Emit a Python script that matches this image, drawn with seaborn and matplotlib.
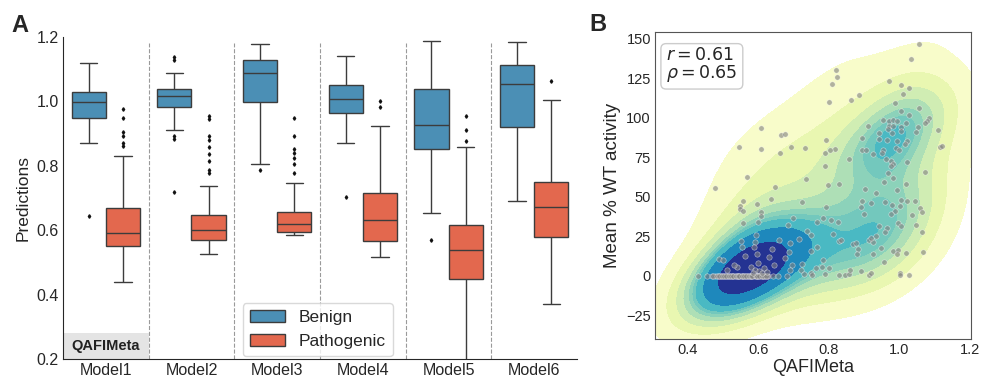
import numpy as np
import pandas as pd
import matplotlib
matplotlib.use("Agg")
import matplotlib.pyplot as plt
import seaborn as sns

# ---------------- Panel A data (box summary values) ----------------
models = ["Model1", "Model2", "Model3", "Model4", "Model5", "Model6"]
groups = ["Benign", "Pathogenic"]

benign_lo = [0.870, 0.912, 0.807, 0.870, 0.653, 0.690]
benign_q1 = [0.948, 0.984, 0.997, 0.9625, 0.853, 0.921]
benign_med = [0.997, 1.017, 1.089, 1.006, 0.926, 1.053]
benign_q3 = [1.029, 1.039, 1.128, 1.050, 1.037, 1.114]
benign_hi = [1.120, 1.089, 1.177, 1.142, 1.186, 1.184]
benign_fliers = [[0.643], [1.139, 1.128, 0.891, 0.883, 0.719], [0.787], [0.703], [0.568], []]

patho_lo = [0.440, 0.526, 0.586, 0.516, 0.198, 0.371]
patho_q1 = [0.550, 0.568, 0.593, 0.567, 0.447, 0.578]
patho_med = [0.592, 0.602, 0.620, 0.6325, 0.537, 0.673]
patho_q3 = [0.669, 0.647, 0.656, 0.717, 0.617, 0.750]
patho_hi = [0.831, 0.7375, 0.748, 0.923, 0.859, 1.003]
patho_fliers = [[0.976, 0.947, 0.904, 0.894, 0.870, 0.862],
                [0.956, 0.946, 0.891, 0.880, 0.859, 0.837, 0.815, 0.787, 0.778],
                [0.948, 0.893, 0.851, 0.839, 0.823, 0.807, 0.778],
                [1.002, 0.984], [0.955, 0.912, 0.877], [1.0625]]

# ---------------- Panel B data ----------------
qafi = [1.055, 1.032, 0.820, 0.822, 0.809, 0.970, 1.005, 1.026, 1.011, 0.886, 0.862, 0.802,
        0.988, 1.055, 1.004, 1.027, 0.954, 0.971, 0.981, 0.994, 1.020, 1.085, 1.077, 1.073,
        0.910, 0.970, 0.983, 1.004, 1.053, 0.969, 1.004, 0.978, 1.047, 1.109, 0.941, 0.894,
        0.943, 0.964, 0.994, 1.023, 1.017, 0.792, 0.817, 0.804, 0.788, 0.893, 0.905, 0.953,
        0.990, 1.000, 1.115, 1.122, 0.952, 0.924, 0.857, 0.962, 0.977, 0.982, 0.975, 1.023,
        0.788, 1.072, 0.968, 0.981, 0.798, 0.828, 1.020,
        0.608, 0.666, 0.675, 0.545, 0.607, 0.662, 0.694, 0.733, 0.569, 0.737,
        0.478, 0.649, 0.725, 0.556, 0.636, 0.548, 0.549, 0.558, 0.598, 0.607, 0.608, 0.556,
        0.601, 0.700, 0.686, 0.738, 0.750, 0.593, 0.551, 0.591, 0.660, 0.690, 0.716, 0.750,
        0.588, 0.640, 0.688, 0.553, 0.563, 0.598, 0.631, 0.675, 0.489, 0.501, 0.539, 0.581,
        0.600, 0.645, 0.591, 0.602, 0.617, 0.695, 0.690, 0.723, 0.721, 0.729, 0.749, 0.753,
        0.513, 0.531,
        0.429, 0.454, 0.468, 0.478, 0.487, 0.496, 0.506, 0.515, 0.525, 0.534, 0.544, 0.553,
        0.563, 0.572, 0.581, 0.591, 0.600, 0.610, 0.619, 0.629, 0.643, 0.657, 0.681,
        0.473, 0.483, 0.492, 0.501, 0.511, 0.520, 0.530, 0.539, 0.549, 0.558, 0.568, 0.577,
        0.586, 0.596, 0.605, 0.615, 0.624,
        0.490, 0.498, 0.504, 0.509, 0.517, 0.523, 0.528, 0.536, 0.542, 0.547, 0.555, 0.561,
        0.566, 0.574, 0.579, 0.584, 0.593, 0.598, 0.603, 0.612, 0.617, 0.622,
        0.585, 0.612, 0.626,
        0.904, 0.957, 0.934, 0.994, 0.893, 0.891, 0.901, 0.920, 0.959, 0.978, 0.988, 0.975,
        1.004, 1.021, 1.043, 1.002, 1.058, 1.063, 1.037, 0.791, 0.766, 0.784, 0.806, 0.827,
        0.943, 0.966, 0.959, 0.996, 1.006, 1.047, 0.813, 0.828, 0.836, 0.869, 0.876, 0.882,
        0.879, 0.915, 0.924, 0.919, 0.933, 0.947, 0.926, 1.064, 0.983, 0.996, 0.994, 1.018,
        1.066, 0.957, 0.766, 0.783, 0.764, 0.782, 0.800, 0.788, 0.828, 0.846, 0.857, 0.861,
        0.892, 0.915, 0.921, 1.001, 1.003, 1.028]
activity = [146.8, 137.1, 130.3, 125.9, 121.7, 123.6, 121.0, 119.1, 115.1, 114.3, 111.5, 110.0,
            109.2, 106.2, 104.3, 102.0, 98.6, 98.2, 98.6, 97.8, 96.5, 99.9, 98.2, 96.7,
            95.0, 95.0, 95.0, 94.4, 94.4, 92.7, 91.9, 90.6, 91.0, 92.3, 90.4, 87.2,
            86.6, 85.9, 85.5, 85.1, 83.8, 85.9, 80.2, 80.0, 77.9, 79.6, 79.6, 79.8,
            80.9, 79.6, 81.3, 82.1, 77.5, 77.3, 73.9, 74.3, 72.8, 71.1, 69.4, 71.8,
            69.4, 65.8, 65.4, 62.2, 57.8, 58.4, 58.0,
            93.5, 89.5, 89.7, 81.3, 80.4, 77.9, 81.3, 81.1, 62.7, 61.4,
            55.4, 56.3, 47.0, 47.6, 48.7, 44.4, 42.1, 41.3, 45.5, 40.2, 37.7, 33.7,
            33.9, 36.4, 32.4, 28.6, 25.8, 25.8, 21.8, 21.6, 22.9, 20.5, 23.3, 15.5,
            18.0, 17.0, 15.3, 18.4, 12.7, 13.6, 11.9, 11.2, 10.6, 9.8, 5.9, 5.9,
            8.1, 6.8, 3.8, 3.2, 4.7, 6.8, 3.8, 7.4, 3.8, 1.1, 1.5, 0.7,
            3.8, 6.8,
            0.0, 0.0, 0.0, 0.0, 0.0, 0.0, 0.0, 0.0, 0.0, 0.0, 0.0, 0.0,
            0.0, 0.0, 0.0, 0.0, 0.0, 0.0, 0.0, 0.0, 0.0, 0.0, 0.0,
            0.0, 0.0, 0.0, 0.0, 0.0, 0.0, 0.0, 0.0, 0.0, 0.0, 0.0, 0.0,
            0.0, 0.0, 0.0, 0.0, 0.0,
            0.0, 0.0, 0.0, 0.0, 0.0, 0.0, 0.0, 0.0, 0.0, 0.0, 0.0, 0.0,
            0.0, 0.0, 0.0, 0.0, 0.0, 0.0, 0.0, 0.0, 0.0, 0.0,
            2.0, 1.5, 2.2,
            55.0, 59.7, 52.5, 54.4, 47.6, 43.8, 39.4, 46.1, 47.0, 44.6, 41.3, 39.4,
            48.2, 47.2, 47.2, 44.4, 42.8, 40.2, 38.3, 43.6, 34.3, 36.4, 35.6, 33.9,
            31.8, 30.3, 28.0, 33.7, 31.3, 32.4, 26.3, 22.0, 22.9, 20.1, 20.5, 17.0,
            14.0, 22.9, 21.6, 23.7, 25.0, 17.6, 14.0, 28.0, 15.5, 16.3, 13.8, 14.4,
            15.3, 8.9, 18.0, 10.2, 4.7, 5.9, 4.7, 0.9, 0.4, 0.6, 1.1, 3.4,
            3.0, 0.7, 1.7, 2.1, 0.7, 0.7]

benign_color = "#4b8fb5"
patho_color = "#e3684e"


def box_sample(lo, q1, med, q3, hi, fliers, rep=20):
    """Sample whose linear-interpolated quartiles/whiskers equal the read values."""
    return list(fliers) + [lo] + [q1] * rep + [med] * rep + [q3] * rep + [hi]


rows = []
for i, m in enumerate(models):
    for v in box_sample(benign_lo[i], benign_q1[i], benign_med[i], benign_q3[i], benign_hi[i], benign_fliers[i]):
        rows.append((m, "Benign", v))
    for v in box_sample(patho_lo[i], patho_q1[i], patho_med[i], patho_q3[i], patho_hi[i], patho_fliers[i]):
        rows.append((m, "Pathogenic", v))
box_df = pd.DataFrame(rows, columns=["model", "label", "pred"])
scat_df = pd.DataFrame({"QAFIMeta": qafi, "activity": activity})

sns.set_style("white")
plt.rcParams["font.family"] = ["Liberation Sans", "DejaVu Sans"]

fig = plt.figure(figsize=(9.84, 3.79), dpi=100)
axA = fig.add_axes([0.064, 0.0528, 0.5224, 0.8496])
axB = fig.add_axes([0.6657, 0.1055, 0.3211, 0.81])

# ---------------- Panel A ----------------
sns.boxplot(data=box_df, x="model", y="pred", hue="label", order=models, hue_order=groups,
            palette={"Benign": benign_color, "Pathogenic": patho_color}, saturation=1,
            width=0.8, gap=0, linecolor="#3c3c3c", linewidth=1, fliersize=1.8, whis=1.5,
            flierprops=dict(marker="d", markerfacecolor="#111111", markeredgecolor="#111111"),
            ax=axA)
axA.set_xlim(-0.5, 5.5)
axA.set_ylim(0.2, 1.2)
axA.set_yticks([0.2, 0.4, 0.6, 0.8, 1.0, 1.2])
axA.set_xlabel("")
axA.set_ylabel("Predictions", fontsize=12.5)
axA.tick_params(axis="both", labelsize=11.5, length=0, pad=3)
sns.despine(ax=axA)
for xb in np.arange(0.5, 5.5, 1.0):
    axA.axvline(xb, ymax=0.98, color="#9a9a9a", ls="--", lw=0.8, zorder=0)
axA.axvspan(-0.5, 0.5, ymin=0, ymax=0.082, color="#e4e4e4", zorder=0, lw=0)
axA.text(0, 0.241, "QAFIMeta", ha="center", va="center", fontweight="bold", fontsize=10.5, color="#222222")
handles, labels = axA.get_legend_handles_labels()
axA.legend(handles, labels, loc="lower left", bbox_to_anchor=(0.35, 0.009), borderaxespad=0,
           fontsize=12.5, frameon=True, edgecolor="#d0d0d0", handlelength=2.0)

# ---------------- Panel B ----------------
sns.kdeplot(data=scat_df, x="QAFIMeta", y="activity", fill=True, cmap="YlGnBu", levels=10,
            thresh=0.05, bw_adjust=1.3, ax=axB)
sns.scatterplot(data=scat_df, x="QAFIMeta", y="activity", color="grey", alpha=0.6, s=15,
                edgecolor="white", linewidth=0.4, ax=axB)
axB.set_xlim(0.308, 1.203)
axB.set_ylim(-40, 154.4)
axB.set_xticks([0.4, 0.6, 0.8, 1.0, 1.2])
axB.set_yticks([-25, 0, 25, 50, 75, 100, 125, 150])
axB.set_xlabel("QAFIMeta", fontsize=13, labelpad=1)
axB.set_ylabel("Mean % WT activity", fontsize=13.5)
axB.tick_params(axis="both", labelsize=10.5, length=0, pad=3)
for s in axB.spines.values():
    s.set_color("#555555")
axB.text(0.035, 0.955, "$r = 0.61$\n$\\rho = 0.65$", transform=axB.transAxes, ha="left", va="top",
         fontsize=12.5, linespacing=1.0,
         bbox=dict(boxstyle="round,pad=0.3", fc="white", ec="#cccccc"))

fig.text(0.012, 0.962, "A", fontsize=17, fontweight="bold", va="top", ha="left")
fig.text(0.599, 0.966, "B", fontsize=17, fontweight="bold", va="top", ha="left")

fig.savefig("out.png", dpi=100)
